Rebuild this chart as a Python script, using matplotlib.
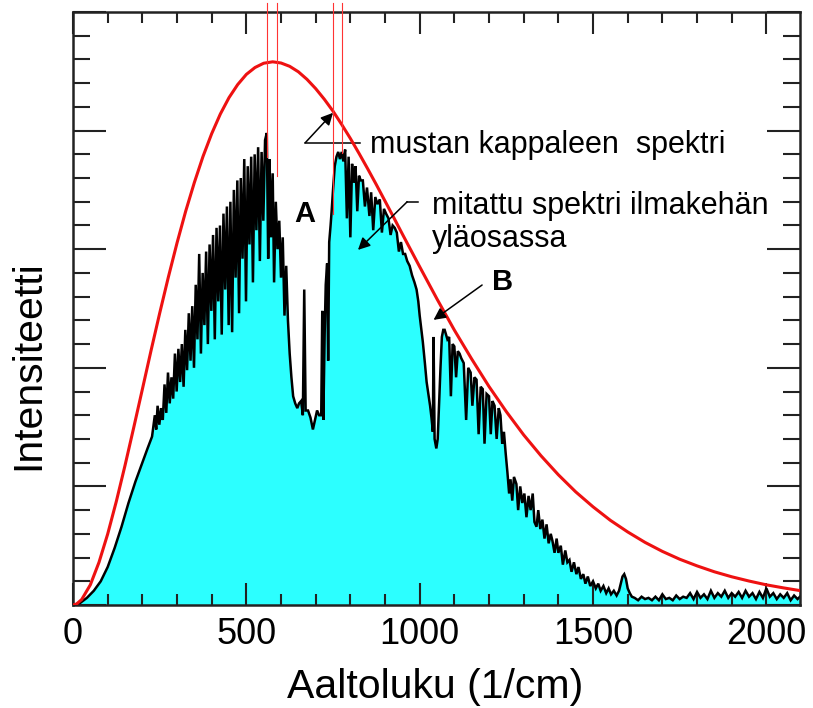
import matplotlib
matplotlib.use("Agg")
import matplotlib.pyplot as plt
from matplotlib.ticker import MultipleLocator

plt.rcParams['font.family'] = ['Liberation Sans', 'DejaVu Sans']

# ---- blackbody curve ----
bb_nu = [0, 10, 25, 50, 75, 100, 125, 150, 175, 200, 225, 250, 275, 300, 325,
         350, 375, 400, 425, 450, 475, 500, 525, 550, 576, 600, 625, 650, 675,
         700, 725, 750, 775, 800, 825, 850, 875, 900, 925, 950, 975, 1000, 1050,
         1100, 1150, 1200, 1250, 1300, 1350, 1400, 1450, 1500, 1550, 1600, 1650,
         1700, 1750, 1800, 1850, 1900, 1950, 2000, 2050, 2100]
bb_val = [0.0, 0.04, 0.23, 0.85, 1.80, 2.99, 4.37, 5.88, 7.47, 9.09, 10.72,
          12.30, 13.82, 15.26, 16.60, 17.81, 18.91, 19.87, 20.70, 21.39, 21.94,
          22.37, 22.66, 22.84, 22.90, 22.85, 22.71, 22.48, 22.16, 21.77, 21.32,
          20.82, 20.26, 19.67, 19.04, 18.39, 17.72, 17.03, 16.34, 15.64, 14.95,
          14.26, 12.90, 11.59, 10.37, 9.21, 8.15, 7.17, 6.29, 5.49, 4.77, 4.14,
          3.57, 3.08, 2.64, 2.26, 1.93, 1.65, 1.40, 1.19, 1.01, 0.85, 0.72, 0.60]

meas_nu = [0, 20, 40, 60, 80, 100, 120, 140, 160, 180, 200, 215, 228,
           236, 240, 244, 249, 254, 259, 264, 269, 274, 279, 284, 289, 294, 299,
           304, 309, 314, 319, 324, 329, 334, 339, 344, 349, 354, 359, 364, 369,
           374, 379, 384, 389, 394, 399, 404, 409, 414, 419, 424, 429, 434, 439,
           444, 449, 454, 459, 464, 469, 474, 479, 484, 489, 494, 499, 504, 509,
           514, 519, 524, 529, 534, 539, 544, 549, 554, 559, 563, 567, 571, 576,
           580, 585, 590, 595, 600, 605, 610, 615, 620, 625, 630, 635,
           641, 647, 652, 658, 663, 667, 671, 678, 685, 692, 698, 704, 710, 716,
           719, 722, 726, 729, 733, 736, 739, 743, 746, 750, 755, 760, 765, 770,
           775, 780, 785, 790, 795, 800, 805, 810, 815, 820, 825, 830, 836, 842,
           848, 855, 860, 866, 872, 878, 885, 891, 897, 903, 910, 916, 922, 928,
           934, 940, 946, 952, 958, 964, 971, 978, 985, 991, 996, 1000, 1005,
           1009, 1015, 1020, 1025, 1030, 1034, 1038, 1040, 1043, 1048, 1052,
           1056, 1060, 1064, 1068, 1072,
           1080, 1085, 1090, 1095, 1100, 1105, 1110, 1115, 1120, 1127, 1134,
           1140, 1147, 1152, 1158, 1164, 1170, 1176, 1182, 1187, 1193, 1200,
           1205, 1210, 1216, 1222, 1228, 1233, 1238, 1243, 1248, 1253, 1258,
           1262, 1267, 1272, 1279, 1284, 1290, 1296, 1302, 1308, 1314, 1320,
           1326, 1331, 1337, 1342, 1348, 1354, 1360, 1366, 1372, 1378, 1383,
           1389, 1395, 1400, 1407, 1413, 1420, 1426, 1432, 1438, 1445, 1452,
           1458, 1465, 1472, 1478, 1485, 1492, 1500, 1508, 1515, 1522, 1530,
           1538, 1545, 1552, 1560, 1568, 1575, 1580, 1585, 1590, 1595, 1600,
           1606, 1612,
           1620, 1630, 1640, 1650, 1660, 1670, 1680, 1690, 1700, 1710, 1720,
           1730, 1740, 1750, 1760, 1770, 1780, 1790, 1800, 1810, 1820, 1830,
           1840, 1850, 1860, 1870, 1880, 1890, 1900, 1910, 1920, 1930, 1940,
           1950, 1960, 1970, 1980, 1990, 2000, 2010, 2020, 2030, 2040, 2050,
           2060, 2070, 2080, 2090, 2097]
meas_val = [0.0, 0.08, 0.3, 0.6, 1.0, 1.6, 2.4, 3.3, 4.3, 5.2, 6.0, 6.6, 7.1,
            8.0, 7.4, 8.4, 7.6, 8.3, 7.8, 9.3, 8.1, 9.8, 8.5, 9.6, 8.7, 10.6, 9.0,
            10.8, 9.4, 11.0, 9.2, 11.6, 9.9, 12.3, 10.3, 12.6, 10.0, 13.5, 11.2,
            14.8, 10.6, 14.0, 11.8, 14.9, 11.0, 15.2, 12.4, 15.6, 11.2, 15.9, 12.8,
            16.0, 11.4, 16.5, 13.3, 16.8, 11.8, 17.0, 11.5, 17.5, 13.8, 17.9, 12.3,
            18.0, 14.6, 18.8, 12.8, 18.5, 15.2, 18.9, 13.6, 19.0, 15.8, 19.3, 14.5,
            19.1, 16.2, 19.6, 19.9, 14.6, 18.8, 15.5, 18.2, 13.6, 17.0, 15.0, 16.2,
            13.8, 15.5, 12.2, 14.3, 12.0, 10.6, 9.6, 8.8,
            8.5, 8.3, 8.5, 8.6, 8.0, 13.3, 8.2, 8.2, 7.9, 7.4, 7.8, 8.2, 8.0, 8.0,
            12.4, 7.8, 11.5, 13.5, 14.4, 10.3, 15.3, 16.0, 16.6, 17.5, 18.5, 18.9,
            19.1, 18.8, 19.1, 18.7, 19.2, 16.3, 18.9, 15.5, 18.6, 17.8, 18.5, 16.6,
            18.1, 17.9, 17.9, 16.8, 17.6, 16.4, 17.4, 15.8, 17.2, 16.9, 17.1, 15.7,
            16.7, 16.5, 16.3, 15.6, 16.0, 15.9, 15.7, 14.9, 15.3, 14.8, 14.8, 14.5,
            14.3, 13.9, 13.6, 13.3, 12.8, 12.2, 11.6, 11.1, 10.2, 9.4, 8.9, 8.4,
            7.9, 7.3, 11.3, 7.0, 6.6, 7.0, 8.5, 10.0, 11.3, 11.6, 11.6,
            11.2, 11.3, 8.8, 11.0, 10.9, 9.6, 10.7, 10.6, 10.4, 10.2, 7.8,
            10.0, 9.8, 8.4, 9.6, 9.5, 7.2, 9.2, 9.1, 6.8, 8.9, 8.8,
            7.2, 8.6, 8.4, 7.0, 8.3, 8.0, 6.8, 7.3, 6.4, 5.6, 4.7,
            5.3, 4.4, 5.4, 5.1, 4.0, 5.0, 4.3, 4.7, 3.7, 4.6, 4.0,
            4.7, 3.5, 3.3, 4.0, 3.2, 3.6, 2.8, 3.4, 2.6, 3.0, 2.7,
            2.2, 2.8, 2.2, 2.5, 1.7, 2.3, 1.8, 1.9, 1.4, 1.8, 1.3,
            1.6, 1.1, 1.3, 0.9, 1.2, 0.8, 1.0, 0.7, 0.9, 0.6, 0.8,
            0.5, 0.7, 0.45, 0.6, 0.4, 0.6, 0.9, 1.2, 1.3, 1.1, 0.7,
            0.5, 0.35,
            0.3, 0.2, 0.35, 0.25, 0.3, 0.2, 0.35, 0.2, 0.45, 0.25, 0.3,
            0.2, 0.4, 0.25, 0.35, 0.3, 0.5, 0.25, 0.55, 0.3, 0.45, 0.25,
            0.6, 0.3, 0.5, 0.35, 0.6, 0.3, 0.5, 0.35, 0.55, 0.3, 0.6,
            0.35, 0.5, 0.25, 0.55, 0.3, 0.7, 0.35, 0.5, 0.25, 0.45, 0.3,
            0.5, 0.2, 0.4, 0.25, 0.35]

# thin red marker lines (wavenumber, lower end value)
mark_nu = [559, 588, 749, 775]
mark_low = [18.9, 18.1, 16.5, 19.05]

xticks = [0, 500, 1000, 1500, 2000]

fig = plt.figure(figsize=(8.13, 7.08), dpi=100)
ax = fig.add_axes([73/813, 103/708, 727/813, 593/708])

ax.fill_between(meas_nu, 0, meas_val, color='#2cffff', lw=0, zorder=1)
ax.plot(meas_nu, meas_val, color='black', lw=1.8, zorder=2, solid_joinstyle='miter')
ax.plot(bb_nu, bb_val, color='#ee1111', lw=2.2, zorder=3)

for xn, yl in zip(mark_nu, mark_low):
    ax.plot([xn, xn], [yl, 25.4], color='#ff3333', lw=0.8, zorder=4, clip_on=False)

ax.set_xlim(0, 2097)
ax.set_ylim(0, 25)
ax.set_xticks(xticks)
ax.xaxis.set_minor_locator(MultipleLocator(100))
ax.yaxis.set_major_locator(MultipleLocator(5))
ax.yaxis.set_minor_locator(MultipleLocator(1))
ax.tick_params(axis='both', which='both', direction='in', top=True, right=True,
               width=1.5, color='#222222')
ax.tick_params(axis='x', which='major', length=16, labelsize=26, pad=9)
ax.tick_params(axis='x', which='minor', length=8)
ax.tick_params(axis='y', which='major', length=24, labelleft=False)
ax.tick_params(axis='y', which='minor', length=12)
for s in ax.spines.values():
    s.set_linewidth(1.8)
    s.set_color('#222222')

fig.text(435/813, 10/708, 'Aaltoluku (1/cm)', fontsize=29.5, ha='center', va='baseline')
fig.text(28/813, 1 - 365/708, 'Intensiteetti', fontsize=29.5, rotation=90,
         ha='center', va='center')

# annotations
ax.text(857, 19.06, 'mustan kappaleen  spektri', fontsize=22, ha='left', va='baseline')
ax.text(1036, 16.5, 'mitattu spektri ilmakehän', fontsize=22, ha='left', va='baseline')
ax.text(1036, 15.1, 'yläosassa', fontsize=22, ha='left', va='baseline')
ax.text(670, 16.5, 'A', fontsize=21, fontweight='bold', ha='center', va='center')
ax.text(1238, 13.6, 'B', fontsize=21, fontweight='bold', ha='center', va='center')

ap = dict(arrowstyle='-|>', color='black', lw=1.1, mutation_scale=18,
          shrinkA=0, shrinkB=0)
# mustan kappaleen spektri
ax.plot([828, 670], [19.49, 19.49], color='black', lw=1.1)
ax.annotate('', xy=(750, 20.75), xytext=(670, 19.49), arrowprops=ap)
# mitattu spektri
ax.plot([996, 964], [17.0, 17.0], color='black', lw=1.1)
ax.annotate('', xy=(822, 14.97), xytext=(964, 17.0), arrowprops=ap)
# B
ax.annotate('', xy=(1040, 12.02), xytext=(1180, 13.49), arrowprops=ap)

fig.savefig('out.png', dpi=100)
